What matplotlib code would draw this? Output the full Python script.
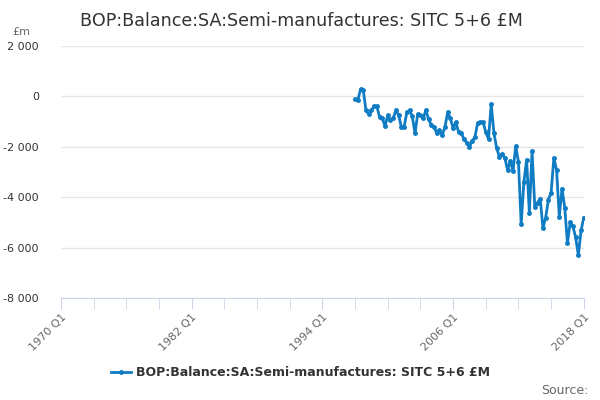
import numpy as np
import matplotlib
matplotlib.use('Agg')
import matplotlib.pyplot as plt
from matplotlib.lines import Line2D

# data: quarterly values from 1997 Q1 to 2018 Q1, in £m
start_year = 1997
values = [
    -120, -160, 280, 240, -550, -710, -550, -390, -390, -830,
    -870, -1180, -750, -950, -870, -550, -750, -1220, -1220, -630,
    -550, -790, -1460, -710, -750, -870, -550, -910, -1140, -1220,
    -1460, -1340, -1540, -1220, -630, -870, -1260, -1020, -1420, -1460,
    -1690, -1850, -2010, -1770, -1620, -1060, -1020, -1020, -1420, -1690,
    -300, -1460, -2050, -2400, -2290, -2440, -2920, -2560, -2960, -1970,
    -2600, -5080, -3390, -2520, -4610, -2170, -4370, -4220, -4060, -5240,
    -4810, -4100, -3820, -2440, -2920, -4770, -3660, -4410, -5830, -5000,
    -5160, -5590, -6300, -5320, -4810,
]
y_ticks = [2000, 0, -2000, -4000, -6000, -8000]
x_label_years = [1970, 1982, 1994, 2006, 2018]

title = "BOP:Balance:SA:Semi-manufactures: SITC 5+6 £M"
blue = '#0f7cc4'

# x position = quarters since 1970 Q1
xs = [(start_year - 1970) * 4 + i for i in range(len(values))]

fig = plt.figure(figsize=(6, 4), dpi=100)
ax = fig.add_axes([0.1017, 0.255, 0.8713, 0.63])

ax.plot(xs, values, color=blue, lw=2, marker='o', ms=2.5, zorder=3)

ax.set_xlim(0, 192)
ax.set_ylim(-8000, 2000)

ax.set_yticks(y_ticks)
ax.set_yticklabels(['{:,}'.format(v).replace(',', ' ') for v in y_ticks],
                   fontsize=8, color='#333333')
ax.yaxis.grid(True, color='#e6e6e6', lw=1)
ax.tick_params(axis='y', length=0, pad=16)

ax.set_xticks(range(0, 193, 12), minor=True)
ax.set_xticks([(y - 1970) * 4 for y in x_label_years])
ax.set_xticklabels(['%d Q1' % y for y in x_label_years], rotation=45,
                   ha='right', rotation_mode='anchor', fontsize=8, color='#666666')
ax.tick_params(axis='x', which='both', length=8, color='#ccd6eb', pad=2)

for s in ['top', 'right', 'left']:
    ax.spines[s].set_visible(False)
ax.spines['bottom'].set_color('#ccd6eb')
ax.set_axisbelow(True)

fig.text(0.502, 0.948, title, ha='center', va='center', fontsize=12.6, color='#333333')
fig.text(0.02, 0.92, '£m', ha='left', va='center', fontsize=8, color='#666666')

h = Line2D([], [], color=blue, lw=2, marker='o', ms=2.5)
fig.legend([h], [title], loc='center', bbox_to_anchor=(0.5, 0.068),
           frameon=False, prop={'size': 9, 'weight': 'bold'},
           labelcolor='#333333', handlelength=1.6, handletextpad=0.4)
fig.text(0.98, 0.025, 'Source:', ha='right', va='center', fontsize=9, color='#666666')

fig.savefig('out.png', dpi=100)
